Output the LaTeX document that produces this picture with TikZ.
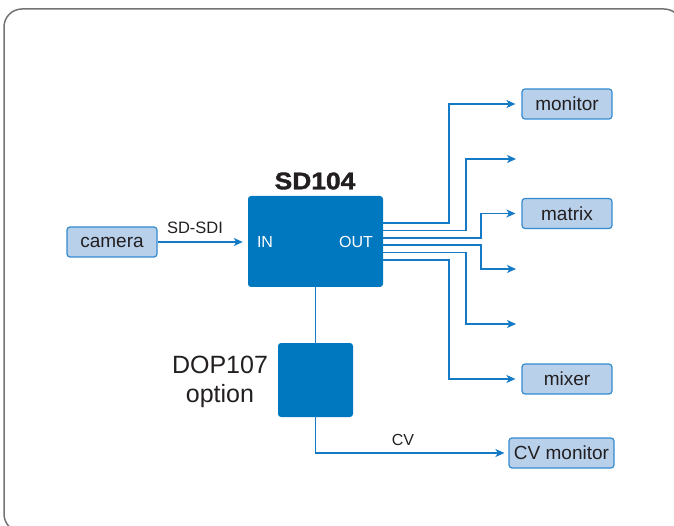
\documentclass[tikz,border=0pt]{standalone}
\usepackage{fontspec}
\setmainfont{Liberation Sans}
\newfontfamily\heavy{Liberation Sans}[UprightFont={* Bold},UprightFeatures={FakeBold=1.6},FakeStretch=1.1]
\usetikzlibrary{arrows.meta}
\definecolor{dblue}{RGB}{0,120,192}
\definecolor{lfill}{RGB}{184,208,234}
\definecolor{lborder}{RGB}{50,138,208}
\definecolor{wire}{RGB}{20,122,198}
\definecolor{frame}{RGB}{115,115,115}
\definecolor{ink}{RGB}{35,31,32}
\tikzset{
  lbox/.style={draw=lborder, fill=lfill, line width=1.2pt, rounded corners=3pt,
    minimum height=30pt, inner sep=0pt, text=ink, font=\fontsize{19}{22}\selectfont},
  dbox/.style={fill=dblue, rounded corners=3pt, inner sep=0pt},
  wtext/.style={text=white, font=\fontsize{16}{19}\selectfont, inner sep=0pt},
  lbl/.style={text=ink, inner sep=0pt},
  arr/.style={draw=wire, line width=1.5pt, -{Stealth[length=9pt,width=8pt,inset=2.5pt]}},
  wln/.style={draw=wire, line width=1.5pt}
}
\begin{document}
\begin{tikzpicture}[x=1pt,y=-1pt]
\useasboundingbox (0,0) rectangle (674,526);
\draw[frame, line width=1.5pt, rounded corners=18pt] (4,9) rectangle (682,532);

% boxes
\node[lbox, minimum width=90pt] (camera) at (112,242) {camera};
\node[dbox, minimum width=135pt, minimum height=91pt] (sd) at (315.5,241.5) {};
\node[dbox, minimum width=75pt, minimum height=74pt] (dop) at (315.5,380) {};
\node[lbox, minimum width=90pt] (monitor) at (567,104) {monitor};
\node[lbox, minimum width=90pt] (matrix) at (567,213.5) {matrix};
\node[lbox, minimum width=90pt] (mixer) at (567,379) {mixer};
\node[lbox, minimum width=105pt] (cvm) at (561.5,453) {CV monitor};

% labels
\node[lbl, font=\heavy\fontsize{24}{28}\selectfont] (sdl) at (315,181) {SD104};
\node[wtext] (in) at (265,242) {IN};
\node[wtext] (out) at (356,242) {OUT};
\node[lbl, font=\fontsize{25}{29}\selectfont, align=center] (dopl) at (220,382) {DOP107\\option};
\node[lbl, font=\fontsize{16.5}{19}\selectfont] (sdi) at (195,228) {SD-SDI};
\node[lbl, font=\fontsize{16}{19}\selectfont] (cvl) at (403,440) {CV};

% empty targets
\coordinate (t2) at (516,159);
\coordinate (t4) at (516,269);
\coordinate (t5) at (516,324);

% connectors
\draw[arr, shorten >=5pt] (camera.east) -- (sd.west |- camera.east);
\draw[wln] (sd.south) -- (dop.north);
\draw[arr, shorten >=4pt] (dop.south) |- (cvm.west);

\draw[arr, shorten >=6pt] (sd.east |- 0,223) -| (449,104) -- (monitor.west);
\draw[arr] (sd.east |- 0,230.5) -| (466,159) -- (t2);
\draw[arr, shorten >=6pt] (sd.east |- 0,238) -| (481,213.5) -- (matrix.west);
\draw[arr] (sd.east |- 0,245) -| (481,269) -- (t4);
\draw[arr] (sd.east |- 0,252.5) -| (466,324) -- (t5);
\draw[arr, shorten >=6pt] (sd.east |- 0,260) -| (449,379) -- (mixer.west);
\end{tikzpicture}
\end{document}
